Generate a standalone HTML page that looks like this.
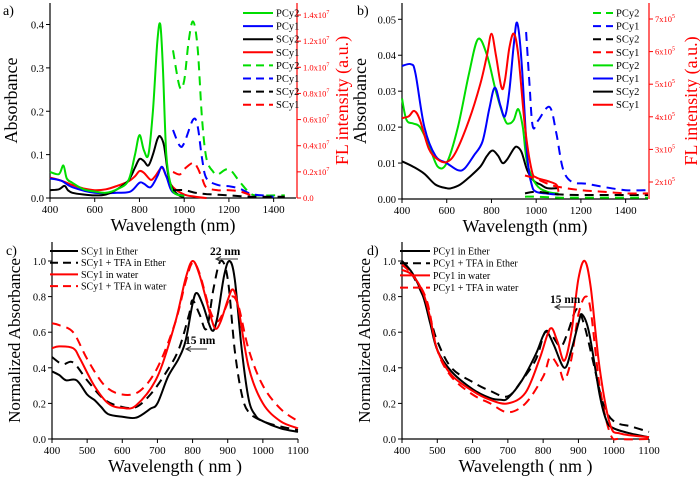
<!DOCTYPE html>
<html><head><meta charset="utf-8">
<style>
html,body{margin:0;padding:0;background:#fff;}
svg{display:block;font-family:"Liberation Serif",serif;}
svg text{font-family:"Liberation Serif","DejaVu Serif",serif !important;}
</style></head>
<body>
<svg id="fig" width="700" height="482" viewBox="0 0 700 482" xmlns="http://www.w3.org/2000/svg"></svg>
<script>
// ---------- Panel a data ----------
const aPCy2X=[400,440,460,475,500,550,600,650,700,750,780,800,820,840,860,880,893,905,920,940,960,1000];
const aPCy2Y=[0.06,0.055,0.075,0.045,0.035,0.02,0.015,0.012,0.02,0.04,0.1,0.145,0.11,0.1,0.2,0.36,0.40,0.3,0.1,0.03,0.01,0.005];
const aPCy1X=[400,450,500,600,700,760,800,820,850,880,900,920,940,960,1000];
const aPCy1Y=[0.045,0.04,0.025,0.012,0.012,0.015,0.035,0.033,0.025,0.05,0.072,0.05,0.02,0.01,0.005];
const aSCy2X=[400,440,465,480,500,550,600,650,700,750,780,800,820,840,860,880,893,910,930,950,980,1000];
const aSCy2Y=[0.018,0.02,0.028,0.018,0.012,0.008,0.006,0.008,0.02,0.04,0.07,0.09,0.085,0.075,0.1,0.135,0.142,0.12,0.05,0.02,0.005,0.003];
const aSCy1X=[400,450,500,550,600,650,700,750,780,800,820,850,870,900,920,950,1000,1050,1100];
const aSCy1Y=[0.047,0.04,0.03,0.022,0.018,0.02,0.028,0.038,0.05,0.062,0.058,0.042,0.05,0.07,0.05,0.025,0.008,0.003,0];
// FL (units 1e6)
const aFlPCy2X=[950,980,1000,1020,1040,1060,1080,1100,1130,1150,1200,1250,1300,1350,1400,1450];
const aFlPCy2Y=[11.3,8.5,9,12,13.5,11.5,6,3,2,1.8,2.2,1.2,0.3,0.2,0.2,0.2];
const aFlPCy1X=[950,980,1000,1040,1060,1080,1100,1150,1200,1250,1300,1350,1400];
const aFlPCy1Y=[5.2,4,4.2,6,5.5,3,1.5,1,0.9,0.7,0.3,0.2,0.1];
const aFlSCy2X=[950,1000,1050,1100,1200,1300,1400,1450];
const aFlSCy2Y=[0.6,0.6,0.4,0.3,0.2,0.1,0.1,0.1];
const aFlSCy1X=[950,980,1000,1040,1060,1080,1100,1150,1200,1250,1300];
const aFlSCy1Y=[2,1.8,2.2,2.7,2.3,1.5,0.8,0.6,0.6,0.5,0.2];
// ---------- Panel b data ----------
const bPCy2X=[400,420,450,480,520,560,600,650,700,740,780,820,860,880,900,920,940,960,1000,1050,1100];
const bPCy2Y=[0.028,0.022,0.021,0.02,0.015,0.009,0.01,0.02,0.035,0.0445,0.04,0.03,0.022,0.021,0.022,0.025,0.02,0.01,0.004,0.002,0.0015];
const bPCy1X=[400,440,460,500,550,600,650,680,720,760,790,815,840,860,880,900,915,935,960,980,1000,1050,1100];
const bPCy1Y=[0.037,0.0375,0.035,0.02,0.012,0.01,0.008,0.0085,0.012,0.016,0.025,0.031,0.026,0.023,0.03,0.043,0.049,0.038,0.012,0.004,0.002,0.0015,0.0012];
const bSCy2X=[400,450,500,550,600,620,660,700,750,780,805,830,850,870,900,915,935,960,990,1020,1050,1100];
const bSCy2Y=[0.0105,0.009,0.007,0.004,0.003,0.003,0.004,0.006,0.009,0.012,0.0135,0.012,0.01,0.011,0.014,0.0145,0.013,0.008,0.005,0.004,0.003,0.003];
const bSCy1X=[400,430,455,480,520,560,600,640,700,750,780,800,820,845,860,880,900,920,950,980,1000,1050,1090,1100];
const bSCy1Y=[0.0225,0.023,0.0245,0.022,0.014,0.011,0.0103,0.013,0.022,0.032,0.04,0.046,0.04,0.031,0.033,0.042,0.046,0.04,0.02,0.008,0.006,0.005,0.004,0.002];
// FL (units 1e5)
const bFlPCy1X=[955,970,985,1010,1060,1090,1120,1160,1220,1300,1400,1500];
const bFlPCy1Y=[6.6,5,3.7,3.9,4.3,3.5,2.4,2.0,1.95,1.85,1.75,1.75];
const bFlSCy1X=[950,1000,1050,1100,1200,1300,1400,1500];
const bFlSCy1Y=[2.2,2.1,1.95,1.85,1.75,1.7,1.65,1.65];
const bFlSCy2X=[950,1000,1100,1200,1300,1400,1500];
const bFlSCy2Y=[1.65,1.7,1.62,1.6,1.6,1.6,1.6];
const bFlPCy2X=[950,1000,1100,1200,1500];
const bFlPCy2Y=[1.55,1.55,1.52,1.52,1.52];
// ---------- Panel c data ----------
const cEthX=[400,420,440,470,500,520,540,560,600,640,680,700,730,760,780,800,812,830,855,870,890,905,920,940,960,980,1000,1050,1100];
const cEthY=[0.38,0.36,0.33,0.33,0.25,0.22,0.18,0.14,0.125,0.12,0.17,0.2,0.35,0.45,0.55,0.76,0.82,0.75,0.61,0.68,0.92,1.0,0.9,0.5,0.22,0.13,0.1,0.06,0.04];
const cEthTfaX=[400,430,460,500,550,600,640,680,720,760,790,800,820,840,860,880,900,920,940,960,1000,1050,1100];
const cEthTfaY=[0.46,0.42,0.43,0.33,0.22,0.18,0.18,0.25,0.36,0.5,0.7,0.78,0.7,0.62,0.85,1.0,0.9,0.5,0.25,0.15,0.1,0.07,0.05];
const cWatX=[400,420,460,480,520,560,600,640,700,750,780,800,820,850,865,880,900,915,930,960,1000,1050,1100];
const cWatY=[0.51,0.52,0.51,0.45,0.3,0.2,0.175,0.19,0.35,0.65,0.9,1.0,0.92,0.7,0.62,0.66,0.78,0.84,0.74,0.4,0.2,0.1,0.06];
const cWatTfaX=[400,420,460,500,550,600,650,700,750,780,800,820,850,870,890,910,930,960,1000,1050,1100];
const cWatTfaY=[0.65,0.64,0.6,0.45,0.3,0.25,0.27,0.4,0.65,0.88,0.99,0.93,0.72,0.66,0.72,0.8,0.75,0.5,0.3,0.17,0.1];
// ---------- Panel d data ----------
const dEthX=[400,430,460,480,500,540,600,650,680,700,740,780,800,812,830,860,880,900,910,930,960,980,1000,1050,1100];
const dEthY=[1.0,0.93,0.8,0.65,0.5,0.38,0.28,0.23,0.22,0.23,0.33,0.48,0.58,0.6,0.53,0.4,0.5,0.65,0.7,0.6,0.25,0.1,0.06,0.03,0.01];
const dEthTfaX=[400,430,460,480,500,540,600,650,700,740,780,805,825,850,870,895,915,940,970,1000,1050,1100];
const dEthTfaY=[1.0,0.92,0.8,0.68,0.55,0.4,0.32,0.27,0.24,0.33,0.45,0.6,0.58,0.52,0.6,0.73,0.65,0.45,0.2,0.1,0.07,0.04];
const dWatX=[400,430,460,480,500,540,600,650,700,750,790,820,840,860,880,900,918,935,960,990,1020,1100];
const dWatY=[0.95,0.92,0.82,0.68,0.5,0.36,0.27,0.22,0.2,0.26,0.45,0.62,0.55,0.44,0.6,0.9,1.0,0.85,0.4,0.08,0.03,0.01];
const dWatTfaX=[400,430,470,500,540,600,650,700,750,800,820,845,860,880,900,920,935,960,990,1020,1100];
const dWatTfaY=[0.98,0.92,0.78,0.5,0.35,0.25,0.2,0.15,0.2,0.35,0.46,0.4,0.33,0.45,0.7,0.8,0.72,0.3,0.03,0.0,0.0];
// tick labels
const abTicksX=[400,600,800,1000,1200,1400];
const cdTicksX=[400,500,600,700,800,900,1000,1100];
const aTicksY=[0.0,0.1,0.2,0.3,0.4];
const bTicksY=[0.00,0.01,0.02,0.03,0.04,0.05];
const cdTicksY=[0.0,0.2,0.4,0.6,0.8,1.0];
const aTicksR=[0,2,4,6,8,10,12,14];   // x10^6
const bTicksR=[2,3,4,5,6,7];          // x10^5

const NS="http://www.w3.org/2000/svg";
const svg=document.getElementById('fig');
function el(tag,attrs,parent){const e=document.createElementNS(NS,tag);for(const k in attrs)e.setAttribute(k,attrs[k]);(parent||svg).appendChild(e);return e;}
function txt(s,attrs,parent){attrs['style']='font-family:"Liberation Serif","DejaVu Serif",serif';const e=el('text',attrs,parent);e.textContent=s;return e;}
function scale(d0,d1,r0,r1){return v=>r0+(v-d0)/(d1-d0)*(r1-r0);}

const G='#00dd00',B='#0000ff',K='#000',R='#ff0000';

function line(g,xs,ys,sx,sy,color,dash,name){
  const P=xs.map((x,i)=>[sx(x),sy(ys[i])]);
  let d='M'+P[0][0].toFixed(1)+','+P[0][1].toFixed(1);
  for(let i=0;i<P.length-1;i++){
    const p0=P[i-1]||P[i],p1=P[i],p2=P[i+1],p3=P[i+2]||p2;
    const c1=[p1[0]+(p2[0]-p0[0])/6,p1[1]+(p2[1]-p0[1])/6];
    const c2=[p2[0]-(p3[0]-p1[0])/6,p2[1]-(p3[1]-p1[1])/6];
    d+='C'+c1.map(v=>v.toFixed(1)).join(',')+' '+c2.map(v=>v.toFixed(1)).join(',')+' '+p2.map(v=>v.toFixed(1)).join(',');
  }
  const e=el('path',{d:d,fill:'none',stroke:color,'stroke-width':2,'stroke-linejoin':'round'},g);
  if(dash)e.setAttribute('stroke-dasharray','9,6');
  
  
}

function panel(cfg){
  const g=el('g',{});
  
  
  const sx=scale(cfg.x0,cfg.x1,cfg.px0,cfg.px1);
  const sy=scale(cfg.y0,cfg.y1,cfg.py0,cfg.py1);
  const ax=el('path',{d:`M${cfg.px0},${cfg.ptop}V${cfg.py0}H${cfg.px1}`,fill:'none',stroke:'#000','stroke-width':1.2},g);
  
  cfg.xt.forEach(v=>{const x=sx(v);el('line',{x1:x,x2:x,y1:cfg.py0,y2:cfg.py0+4,stroke:'#000'},g);
    const t=txt(String(v),{x:x,y:cfg.py0+15,'text-anchor':'middle','font-size':11},g);
    });
  cfg.yt.forEach(v=>{const y=sy(v);el('line',{x1:cfg.px0-4,x2:cfg.px0,y1:y,y2:y,stroke:'#000'},g);
    const t=txt(v.toFixed(cfg.yd),{x:cfg.px0-6,y:y+4,'text-anchor':'end','font-size':10.5},g);
    });
  const xt=txt(cfg.xtitle,{x:(cfg.px0+cfg.px1)/2,y:cfg.py0+33,'text-anchor':'middle','font-size':18},g);
  
  const yt=txt(cfg.ytitle,{x:0,y:0,'text-anchor':'middle','font-size':cfg.yfs,transform:`translate(${cfg.ytx},${(cfg.py0+cfg.ptop)/2}) rotate(-90)`},g);
  
  const lab=txt(cfg.label,{x:cfg.lx,y:cfg.ly,'font-size':14},g);
  
  return {g,sx,sy};
}

function rightAxis(g,px,ptop,py0,sr,ticks,exp,tx){
  const a=el('line',{x1:px,x2:px,y1:ptop,y2:py0,stroke:R,'stroke-width':1.2},g);
  
  ticks.forEach(v=>{const y=sr(v);el('line',{x1:px,x2:px+4,y1:y,y2:y,stroke:R},g);
    const t=txt('',{x:px+6,y:y+3,'font-size':8.5,fill:R},g);
    
    if(v===0&&exp===6){t.textContent='0.0';}
    else if(exp===6){t.textContent=(v/10).toFixed(1)+'x10';const s=el('tspan',{dy:-4,'font-size':6},t);s.textContent='7';}
    else{t.textContent=v+'x10';const s=el('tspan',{dy:-4,'font-size':6},t);s.textContent='5';}
  });
  const t=txt('FL intensity (a.u.)',{x:0,y:0,'text-anchor':'middle','font-size':18,fill:R,transform:`translate(${tx},${(ptop+py0)/2}) rotate(-90)`},g);
  
}

function legend(g,items,x,y0,dy,lw,fs){
  items.forEach((it,i)=>{const y=y0+i*dy;
    const l=el('line',{x1:x,x2:x+lw,y1:y,y2:y,stroke:it[1],'stroke-width':2},g);
    if(it[2])l.setAttribute('stroke-dasharray','8,5');
    
    const t=txt(it[0],{x:x+lw+3,y:y+3.5,'font-size':fs},g);
    });
}

// ---- Panel a ----
{
 const P=panel({name:'panel-a',x0:400,x1:1500,px0:50,px1:296,y0:0,y1:0.4,py0:198,py1:24.5,ptop:3,xt:abTicksX,yt:aTicksY,yd:1,
  xtitle:'Wavelength (nm)',ytitle:'Absorbance',yfs:18,ytx:17,label:'a)',lx:3,ly:15});
 const sr=scale(0,14,198,15);
 rightAxis(P.g,297,3,198,sr,aTicksR,6,348);
 line(P.g,aSCy1X,aSCy1Y,P.sx,P.sy,R,false,'line-scy1');
 line(P.g,aPCy1X,aPCy1Y,P.sx,P.sy,B,false,'line-pcy1');
 line(P.g,aSCy2X,aSCy2Y,P.sx,P.sy,K,false,'line-scy2');
 line(P.g,aPCy2X,aPCy2Y,P.sx,P.sy,G,false,'line-pcy2');
 line(P.g,aFlPCy2X,aFlPCy2Y,P.sx,sr,G,true,'fl-pcy2');
 line(P.g,aFlPCy1X,aFlPCy1Y,P.sx,sr,B,true,'fl-pcy1');
 line(P.g,aFlSCy2X,aFlSCy2Y,P.sx,sr,K,true,'fl-scy2');
 line(P.g,aFlSCy1X,aFlSCy1Y,P.sx,sr,R,true,'fl-scy1');
 legend(P.g,[['PCy2',G,0],['PCy1',B,0],['SCy2',K,0],['SCy1',R,0],['PCy2',G,1],['PCy1',B,1],['SCy2',K,1],['SCy1',R,1]],243,13,13.1,30,10.5);
}
// ---- Panel b ----
{
 const P=panel({name:'panel-b',x0:400,x1:1500,px0:402,px1:648,y0:0,y1:0.05,py0:199,py1:19.3,ptop:3,xt:abTicksX,yt:bTicksY,yd:2,
  xtitle:'Wavelength (nm)',ytitle:'Absorbance',yfs:18,ytx:366,label:'b)',lx:357,ly:15});
 const sr=scale(2,7,182,19);
 rightAxis(P.g,649,3,199,sr,bTicksR,5,697);
 line(P.g,bSCy2X,bSCy2Y,P.sx,P.sy,K,false,'line-scy2');
 line(P.g,bPCy2X,bPCy2Y,P.sx,P.sy,G,false,'line-pcy2');
 line(P.g,bPCy1X,bPCy1Y,P.sx,P.sy,B,false,'line-pcy1');
 line(P.g,bSCy1X,bSCy1Y,P.sx,P.sy,R,false,'line-scy1');
 line(P.g,bFlPCy2X,bFlPCy2Y,P.sx,sr,G,true,'fl-pcy2');
 line(P.g,bFlSCy2X,bFlSCy2Y,P.sx,sr,K,true,'fl-scy2');
 line(P.g,bFlSCy1X,bFlSCy1Y,P.sx,sr,R,true,'fl-scy1');
 line(P.g,bFlPCy1X,bFlPCy1Y,P.sx,sr,B,true,'fl-pcy1');
 legend(P.g,[['PCy2',G,1],['PCy1',B,1],['SCy2',K,1],['SCy1',R,1],['PCy2',G,0],['PCy1',B,0],['SCy2',K,0],['SCy1',R,0]],593,13,13.1,20,10.5);
}
function arrow(g,x1,x2,y){const l=el('path',{d:`M${x1},${y}H${x2}M${x2+5},${y-2.5}L${x2},${y}L${x2+5},${y+2.5}`,fill:'none',stroke:'#333','stroke-width':1},g);
 }
// ---- Panel c ----
{
 const P=panel({name:'panel-c',x0:400,x1:1100,px0:52,px1:298,y0:0,y1:1,py0:439,py1:261,ptop:242,xt:cdTicksX,yt:cdTicksY,yd:1,
  xtitle:'Wavelength ( nm )',ytitle:'Normalized Absorbance',yfs:17,ytx:20,label:'c)',lx:6,ly:255});
 line(P.g,cEthTfaX,cEthTfaY,P.sx,P.sy,K,true,'line-ether-tfa');
 line(P.g,cWatTfaX,cWatTfaY,P.sx,P.sy,R,true,'line-water-tfa');
 line(P.g,cEthX,cEthY,P.sx,P.sy,K,false,'line-ether');
 line(P.g,cWatX,cWatY,P.sx,P.sy,R,false,'line-water');
 legend(P.g,[['SCy1 in Ether',K,0],['SCy1 + TFA in Ether',K,1],['SCy1 in water',R,0],['SCy1 + TFA in water',R,1]],50,251,11.7,28,10);
 const t1=txt('22 nm',{x:210,y:255,'font-size':11.5,'font-weight':'bold'},P.g);
 arrow(P.g,238,216,259);
 const t2=txt('15 nm',{x:185,y:344,'font-size':11.5,'font-weight':'bold'},P.g);
 arrow(P.g,207,186,349);
}
// ---- Panel d ----
{
 const P=panel({name:'panel-d',x0:400,x1:1100,px0:402,px1:649,y0:0,y1:1,py0:439,py1:261,ptop:242,xt:cdTicksX,yt:cdTicksY,yd:1,
  xtitle:'Wavelength ( nm )',ytitle:'Normalized Absorbance',yfs:17,ytx:370,label:'d)',lx:367,ly:255});
 line(P.g,dEthTfaX,dEthTfaY,P.sx,P.sy,K,true,'line-ether-tfa');
 line(P.g,dWatTfaX,dWatTfaY,P.sx,P.sy,R,true,'line-water-tfa');
 line(P.g,dEthX,dEthY,P.sx,P.sy,K,false,'line-ether');
 line(P.g,dWatX,dWatY,P.sx,P.sy,R,false,'line-water');
 legend(P.g,[['PCy1 in Ether',K,0],['PCy1 + TFA in Ether',K,1],['PCy1 in water',R,0],['PCy1 + TFA in water',R,1]],400,251,12.2,30,10);
 const t2=txt('15 nm',{x:550,y:303,'font-size':11.5,'font-weight':'bold'},P.g);
 arrow(P.g,575,555,307);
}
</script>
</body></html>
